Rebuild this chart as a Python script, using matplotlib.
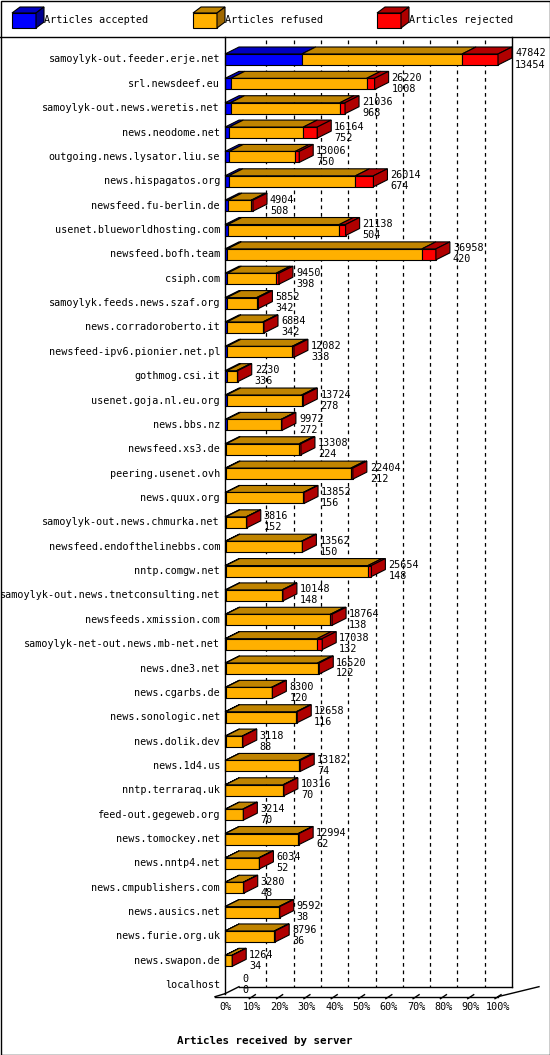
import matplotlib
matplotlib.use("Agg")
import matplotlib.pyplot as plt
from matplotlib.patches import Polygon, Rectangle

servers = ["samoylyk-out.feeder.erje.net","srl.newsdeef.eu","samoylyk-out.news.weretis.net","news.neodome.net",
"outgoing.news.lysator.liu.se","news.hispagatos.org","newsfeed.fu-berlin.de","usenet.blueworldhosting.com",
"newsfeed.bofh.team","csiph.com","samoylyk.feeds.news.szaf.org","news.corradoroberto.it",
"newsfeed-ipv6.pionier.net.pl","gothmog.csi.it","usenet.goja.nl.eu.org","news.bbs.nz","newsfeed.xs3.de",
"peering.usenet.ovh","news.quux.org","samoylyk-out.news.chmurka.net","newsfeed.endofthelinebbs.com",
"nntp.comgw.net","samoylyk-out.news.tnetconsulting.net","newsfeeds.xmission.com","samoylyk-net-out.news.mb-net.net",
"news.dne3.net","news.cgarbs.de","news.sonologic.net","news.dolik.dev","news.1d4.us","nntp.terraraq.uk",
"feed-out.gegeweb.org","news.tomockey.net","news.nntp4.net","news.cmpublishers.com","news.ausics.net",
"news.furie.org.uk","news.swapon.de","localhost"]
offered = [47842,26220,21036,16164,13006,26014,4904,21138,36958,9450,5852,6834,12082,2230,13724,9972,13308,
22404,13852,3816,13562,25654,10148,18764,17038,16520,8300,12658,3118,13182,10316,3214,12994,6034,3280,9592,8796,1264,0]
accepted = [13454,1008,968,752,750,674,508,504,420,398,342,342,338,336,278,272,224,212,156,152,150,148,148,138,132,
122,120,116,88,74,70,70,62,52,48,38,36,34,0]
rejected = [6300,1400,900,2450,700,3150,300,1100,2450,500,300,200,300,200,300,150,300,350,150,100,150,600,150,300,
900,300,150,150,100,300,150,100,150,150,100,150,150,50,0]
ticks = ["0%","10%","20%","30%","40%","50%","60%","70%","80%","90%","100%"]

W, H = 550, 1055
fig = plt.figure(figsize=(W/100, H/100), dpi=100)
ax = fig.add_axes([0, 0, 1, 1])
ax.set_xlim(0, W); ax.set_ylim(H, 0); ax.axis("off")
FONT = dict(family="DejaVu Sans Mono", fontsize=7.3)

X0, PW = 225, 273   # 0% and 100% width
DX, DY = 14, 7
Y0, STEP = 59.5, 24.36
HH = 5.5
vmax = max(offered)

def box(x1, x2, yc, front, top, side, draw_side=True):
    if x2 - x1 <= 0: return
    ax.add_patch(Polygon([(x1, yc-HH), (x1+DX, yc-HH-DY), (x2+DX, yc-HH-DY), (x2, yc-HH)],
                         closed=True, fc=top, ec="black", lw=0.8, zorder=3))
    ax.add_patch(Rectangle((x1, yc-HH), x2-x1, 2*HH, fc=front, ec="black", lw=0.8, zorder=3))
    if draw_side:
        ax.add_patch(Polygon([(x2, yc-HH), (x2+DX, yc-HH-DY), (x2+DX, yc+HH-DY), (x2, yc+HH)],
                             closed=True, fc=side, ec="black", lw=0.8, zorder=3))

BLUE = ("#0000ff", "#0000c0", "#000090")
ORNG = ("#ffb000", "#c08400", "#a06800")
RED = ("#ff0000", "#b00000", "#b00000")

# frame and header
ax.add_patch(Rectangle((0.5, 0.5), W-1, H-1, fill=False, ec="black", lw=1))
ax.plot([0, W], [37, 37], color="black", lw=1)
for lx, col, lab in [(12, BLUE, "Articles accepted"), (193, ORNG, "Articles refused"), (377, RED, "Articles rejected")]:
    ax.add_patch(Polygon([(lx, 13), (lx+8, 7), (lx+32, 7), (lx+24, 13)], closed=True, fc=col[1], ec="black", lw=0.8))
    ax.add_patch(Rectangle((lx, 13), 24, 15, fc=col[0], ec="black", lw=0.8))
    ax.add_patch(Polygon([(lx+24, 13), (lx+32, 7), (lx+32, 22), (lx+24, 28)], closed=True, fc=col[2], ec="black", lw=0.8))
    ax.text(lx+32, 20, lab, va="center", ha="left", **FONT)

# axes walls / grid
ybot = Y0 + (len(servers)-1)*STEP + HH + 3
ax.plot([X0, X0], [37, ybot], color="black", lw=1, zorder=4)
ax.plot([X0+PW+DX, X0+PW+DX], [37, ybot-DY], color="black", lw=1, zorder=1)
ax.plot([X0, X0+DX], [ybot, ybot-DY], color="black", lw=1)
ax.plot([X0+DX, X0+PW+DX], [ybot-DY, ybot-DY], color="black", lw=1)
ax.plot([X0-10, X0+PW], [ybot+3, ybot+3], color="black", lw=1)
ax.plot([X0+PW, X0+PW+DX+27], [ybot+3, ybot-DY], color="black", lw=1)
ax.plot([X0-10, X0], [ybot+3, ybot], color="black", lw=1)
for i, t in enumerate(ticks):
    gx = X0 + PW*i/10
    if 0 < i < 10:
        ax.plot([gx+DX, gx+DX], [40, ybot-DY], color="black", lw=0.9, ls=(0, (3, 3)), zorder=1)
    if i > 0:
        ax.plot([gx-3, gx+3], [ybot+5, ybot+1], color="black", lw=1)
    ax.text(gx, ybot+13, t, ha="center", va="center", **FONT)
ax.text(265, 1041, "Articles received by server", ha="center", va="center",
        family="DejaVu Sans Mono", fontsize=7.8, weight="bold")

for i, name in enumerate(servers):
    yc = Y0 + i*STEP
    ax.text(220, yc, name, ha="right", va="center", **FONT)
    tot = offered[i]
    a = accepted[i]; r = rejected[i]; f = tot - a - r
    xa = X0 + PW*a/vmax
    xf = xa + PW*f/vmax
    xr = xf + PW*r/vmax
    if tot > 0:
        box(X0, xa, yc, *BLUE, draw_side=False)
        box(xa, xf, yc, *ORNG, draw_side=False)
        box(xf, xr, yc, *RED)
    tx = xr + DX + 3
    ax.text(tx, yc-6, str(tot), ha="left", va="center", zorder=5, **FONT)
    ax.text(tx, yc+5, str(a), ha="left", va="center", zorder=5, **FONT)

fig.savefig("out.png", dpi=100)
